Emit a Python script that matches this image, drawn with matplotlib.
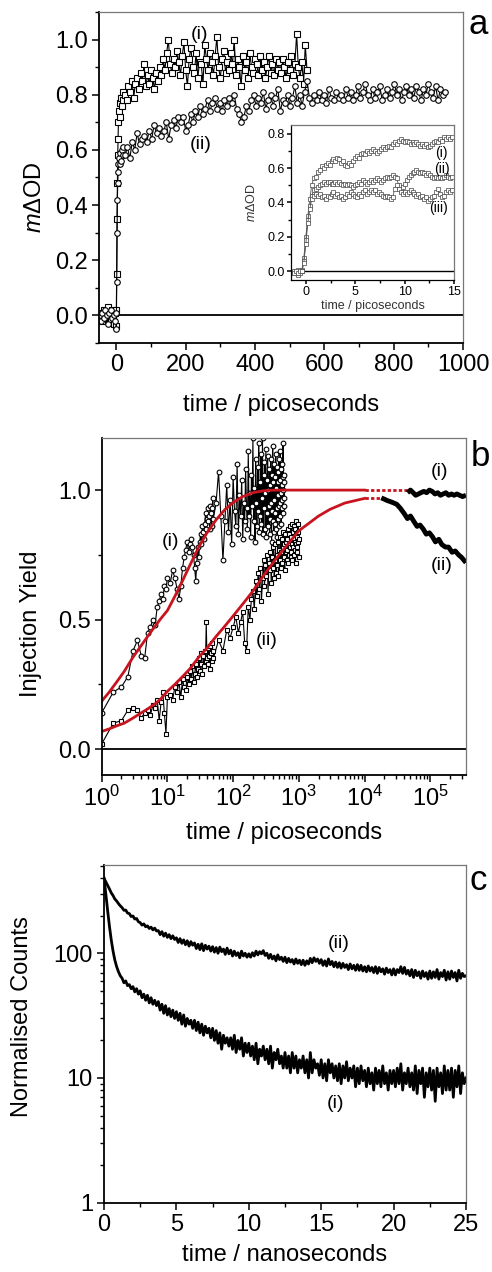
import numpy as np
import matplotlib
matplotlib.use("Agg")
import matplotlib.pyplot as plt
from matplotlib.ticker import MultipleLocator, FixedLocator, NullFormatter, LogLocator

plt.rcParams['font.family'] = ['Liberation Sans', 'DejaVu Sans']
plt.rcParams['mathtext.fontset'] = 'custom'
plt.rcParams['mathtext.rm'] = 'Liberation Sans'
plt.rcParams['mathtext.it'] = 'Liberation Sans:italic'

# ---------------- panel a: main traces ----------------
a_pre_t = [-48, -44, -40, -36, -32, -28, -24, -20, -16, -12, -8, -4, -2, 0,
           1, 2, 3, 4, 5, 6, 8, 10, 12, 14, 16, 18, 20]
a1_pre = [-0.01, 0.01, -0.02, 0.02, 0.00, -0.01, 0.03, 0.01, -0.02, 0.02, -0.03, 0.01, -0.04, 0.02,
          0.15, 0.35, 0.48, 0.58, 0.64, 0.70, 0.74, 0.72, 0.77, 0.79, 0.76, 0.81, 0.78]
a2_pre = [0.00, -0.02, 0.01, -0.01, 0.02, 0.00, -0.03, 0.01, 0.02, -0.01, 0.00, -0.02, 0.01, -0.05,
          0.12, 0.30, 0.42, 0.48, 0.52, 0.55, 0.57, 0.55, 0.59, 0.56, 0.60, 0.58, 0.61]

a1_t = np.arange(25, 551, 5)
a1_y = [0.80, 0.78, 0.83, 0.81, 0.85, 0.79, 0.84, 0.86, 0.82, 0.88,
        0.85, 0.91, 0.83, 0.87, 0.84, 0.89, 0.86, 0.82, 0.88, 0.85,
        0.90, 0.87, 0.93, 0.89, 0.95, 1.00, 0.91, 0.88, 0.93, 0.90,
        0.96, 0.92, 0.87, 0.94, 0.99, 0.89, 0.83, 0.93, 0.97, 0.90,
        0.88, 0.95, 0.86, 0.92, 0.91, 0.84, 0.98, 0.93, 0.89, 0.95,
        0.92, 0.87, 0.94, 1.01, 0.90, 0.86, 0.93, 0.96, 0.88, 0.92,
        0.89, 0.95, 0.91, 1.00, 0.87, 0.93, 0.90, 0.83, 0.94, 0.89,
        0.92, 0.86, 0.95, 0.90, 0.88, 0.93, 0.91, 0.87, 0.94, 0.89,
        0.92, 0.86, 0.90, 0.94, 0.88, 0.91, 0.87, 0.93, 0.89, 0.92,
        0.88, 0.93, 0.90, 0.86, 0.92, 0.89, 0.94, 0.87, 0.91, 1.02,
        0.90, 0.86, 0.92, 0.84, 0.98, 0.89]

a2_t = np.arange(25, 950, 7)
a2_y = [0.58, 0.61, 0.57, 0.63, 0.60, 0.66, 0.62, 0.64, 0.65, 0.63,
        0.67, 0.64, 0.69, 0.66, 0.68, 0.65, 0.67, 0.70, 0.64, 0.69,
        0.71, 0.68, 0.72, 0.70, 0.72, 0.67, 0.69, 0.73, 0.70, 0.74,
        0.72, 0.76, 0.73, 0.75, 0.78, 0.74, 0.77, 0.79, 0.75, 0.77,
        0.74, 0.78, 0.76, 0.79, 0.77, 0.80, 0.75, 0.73, 0.70, 0.72,
        0.76, 0.74, 0.78, 0.80, 0.76, 0.79, 0.77, 0.81, 0.75, 0.78,
        0.80, 0.76, 0.79, 0.82, 0.74, 0.78, 0.77, 0.80, 0.76, 0.79,
        0.83, 0.77, 0.80, 0.76, 0.81, 0.85, 0.79, 0.77, 0.80, 0.78,
        0.81, 0.78, 0.80, 0.77, 0.82, 0.79, 0.78, 0.81, 0.79, 0.80,
        0.78, 0.82, 0.79, 0.81, 0.78, 0.80, 0.83, 0.79, 0.81, 0.84,
        0.80, 0.78, 0.82, 0.79, 0.81, 0.83, 0.78, 0.80, 0.82, 0.79,
        0.81, 0.84, 0.80, 0.82, 0.78, 0.81, 0.83, 0.80, 0.82, 0.79,
        0.83, 0.81, 0.78, 0.82, 0.80, 0.84, 0.81, 0.79, 0.83, 0.78,
        0.82, 0.80, 0.81]

# ---------------- panel a: inset ----------------
ins_t = np.linspace(-1.2, 14.8, 81)
ins_1 = [-0.01, 0.00, -0.02, 0.00, 0.01, 0.08, 0.20, 0.32, 0.42, 0.50,
         0.54, 0.55, 0.58, 0.59, 0.61, 0.60, 0.62, 0.63, 0.62, 0.64,
         0.65, 0.64, 0.66, 0.65, 0.63, 0.64, 0.62, 0.61, 0.63, 0.62,
         0.64, 0.66, 0.67, 0.66, 0.68, 0.69, 0.68, 0.70, 0.69, 0.70,
         0.71, 0.70, 0.69, 0.70, 0.71, 0.72, 0.71, 0.72, 0.73, 0.72,
         0.74, 0.75, 0.74, 0.76, 0.77, 0.76, 0.75, 0.76, 0.75, 0.74,
         0.75, 0.74, 0.75, 0.74, 0.73, 0.74, 0.73, 0.74, 0.72, 0.73,
         0.74, 0.75, 0.76, 0.75, 0.77, 0.76, 0.78, 0.77, 0.78, 0.77, 0.78]
ins_2 = [0.00, -0.01, 0.01, -0.01, 0.00, 0.06, 0.18, 0.30, 0.38, 0.44,
         0.47, 0.48, 0.49, 0.50, 0.51, 0.52, 0.51, 0.52, 0.52, 0.51,
         0.51, 0.52, 0.51, 0.52, 0.51, 0.50, 0.51, 0.50, 0.51, 0.50,
         0.49, 0.50, 0.51, 0.52, 0.51, 0.53, 0.52, 0.51, 0.52, 0.53,
         0.52, 0.53, 0.54, 0.53, 0.52, 0.53, 0.54, 0.55, 0.54, 0.55,
         0.56, 0.55, 0.54, 0.50, 0.47, 0.49, 0.51, 0.53, 0.55, 0.56,
         0.57, 0.58, 0.59, 0.58, 0.57, 0.58, 0.57, 0.56, 0.57, 0.56,
         0.55, 0.54, 0.55, 0.54, 0.55, 0.54, 0.55, 0.56, 0.55, 0.54, 0.55]
ins_3 = [-0.01, 0.00, -0.01, 0.00, 0.00, 0.05, 0.16, 0.28, 0.36, 0.42,
         0.44, 0.45, 0.44, 0.45, 0.43, 0.44, 0.42, 0.44, 0.43, 0.45,
         0.46, 0.44, 0.45, 0.43, 0.44, 0.42, 0.43, 0.45, 0.44, 0.46,
         0.45, 0.44, 0.43, 0.45, 0.44, 0.46, 0.47, 0.45, 0.46, 0.47,
         0.46, 0.47, 0.45, 0.46, 0.45, 0.44, 0.43, 0.44, 0.43, 0.42,
         0.43, 0.48, 0.50, 0.48, 0.46, 0.45, 0.46, 0.45, 0.46, 0.47,
         0.46, 0.45, 0.44, 0.45, 0.43, 0.44, 0.42, 0.43, 0.41, 0.42,
         0.43, 0.44, 0.46, 0.48, 0.45, 0.43, 0.44, 0.46, 0.47, 0.46, 0.47]

# ---------------- panel b ----------------
b_t_early = np.arange(1, 10.01, 0.5)
b_t_mid = np.arange(11, 51, 1)
b1_t_late = np.arange(55, 601, 5)
b2_t_late = np.arange(60, 1001, 10)

b1_y = [0.14, 0.22, 0.24, 0.28, 0.38, 0.42, 0.36, 0.35, 0.45, 0.47,
        0.50, 0.48, 0.55, 0.57, 0.60, 0.58, 0.63, 0.62, 0.66,
        0.64, 0.69, 0.66, 0.62, 0.58, 0.63, 0.70, 0.74, 0.77, 0.80,
        0.76, 0.79, 0.81, 0.78, 0.75, 0.70, 0.65, 0.72, 0.78, 0.74,
        0.80, 0.83, 0.79, 0.86, 0.84, 0.81, 0.87, 0.91, 0.85, 0.89,
        0.93, 0.88, 0.90, 0.85, 0.94, 0.91, 0.86, 0.93, 0.97, 0.89,
        0.95, 1.07, 0.90, 0.73, 0.88, 1.02, 0.84, 0.96, 0.79, 1.05,
        0.92, 0.86, 1.10, 0.83, 0.98, 0.90, 1.04, 0.81, 0.95, 0.88,
        1.08, 0.93, 0.85, 1.15, 0.90, 0.99, 0.82, 1.06, 0.94, 1.20,
        0.88, 1.01, 0.80, 1.12, 0.95, 0.86, 1.09, 0.92, 1.18, 0.84,
        1.03, 0.90, 1.14, 0.87, 0.97, 1.20, 0.83, 1.06, 0.93, 1.11,
        0.85, 0.99, 1.16, 0.82, 1.04, 0.91, 1.13, 0.86, 1.00, 0.94,
        1.08, 0.83, 1.02, 0.89, 1.12, 0.95, 0.80, 1.06, 0.92, 1.17,
        0.88, 1.03, 0.84, 1.10, 0.96, 0.87, 1.05, 0.91, 1.14, 0.85,
        1.01, 0.93, 1.09, 0.82, 0.98, 1.07, 0.89, 1.03, 0.94, 1.12,
        0.86, 1.04, 0.95, 1.15, 0.90, 0.99, 1.08, 0.87, 1.02, 0.93,
        1.10, 0.96, 1.05, 0.91, 1.18, 1.00, 0.94, 1.06, 0.97, 1.03]

b2_y = [0.02, 0.10, 0.11, 0.15, 0.16, 0.15, 0.12, 0.14, 0.15, 0.13,
        0.17, 0.16, 0.19, 0.11, 0.18, 0.22, 0.14, 0.06, 0.20,
        0.21, 0.19, 0.24, 0.22, 0.26, 0.20, 0.27, 0.24, 0.23, 0.28,
        0.25, 0.30, 0.27, 0.32, 0.26, 0.29, 0.33, 0.28, 0.31, 0.35,
        0.30, 0.37, 0.33, 0.29, 0.36, 0.32, 0.38, 0.34, 0.49, 0.35,
        0.33, 0.39, 0.36, 0.31, 0.40, 0.37, 0.34, 0.41, 0.38, 0.35,
        0.42, 0.38, 0.46, 0.43, 0.47, 0.51, 0.45, 0.49, 0.53, 0.41,
        0.38, 0.55, 0.50, 0.58, 0.61, 0.54, 0.65, 0.59, 0.68, 0.62,
        0.70, 0.57, 0.66, 0.73, 0.63, 0.71, 0.67, 0.75, 0.60, 0.72,
        0.69, 0.76, 0.64, 0.74, 0.70, 0.78, 0.66, 0.73, 0.79, 0.68,
        0.75, 0.71, 0.80, 0.67, 0.77, 0.73, 0.82, 0.70, 0.76, 0.81,
        0.72, 0.78, 0.84, 0.74, 0.79, 0.69, 0.83, 0.76, 0.80, 0.73,
        0.81, 0.77, 0.85, 0.72, 0.79, 0.83, 0.75, 0.86, 0.78, 0.74,
        0.82, 0.76, 0.87, 0.79, 0.73, 0.84, 0.78, 0.81, 0.75, 0.86,
        0.80, 0.77, 0.85, 0.72, 0.83, 0.79, 0.88, 0.76, 0.82, 0.78,
        0.84, 0.80, 0.87, 0.74, 0.81]

fit_t = [1, 1.3, 1.7, 2.2, 3, 4, 5, 6.5, 8, 10, 13, 17, 22, 30, 40, 55, 75,
         100, 140, 200, 300, 450, 700, 1000, 2000, 3000, 5000, 10000]
fit_1 = [0.185, 0.22, 0.26, 0.30, 0.355, 0.40, 0.435, 0.475, 0.505, 0.535, 0.59, 0.65,
         0.71, 0.78, 0.835, 0.885, 0.925, 0.952, 0.975, 0.99, 0.998, 1.0, 1.0, 1.0,
         1.0, 1.0, 1.0, 1.0]
fit_2 = [0.068, 0.078, 0.09, 0.10, 0.12, 0.14, 0.155, 0.175, 0.195, 0.223, 0.25, 0.28,
         0.31, 0.355, 0.39, 0.435, 0.475, 0.514, 0.56, 0.61, 0.675, 0.735, 0.795, 0.843,
         0.90, 0.926, 0.95, 0.968]
dot_1_t, dot_1_y = [10000, 44000], [1.0, 1.0]
dot_2_t, dot_2_y = [10000, 18000], [0.968, 0.968]

late1_t = [45000, 50000, 55000, 60000, 66000, 72000, 80000, 88000, 97000, 107000, 118000,
           130000, 143000, 157000, 173000, 190000, 210000, 230000, 255000, 280000, 310000, 350000]
late1_y = [0.99, 1.0, 0.99, 0.98, 0.985, 0.99, 0.995, 0.99, 1.0, 0.995, 0.985,
           0.99, 0.98, 0.985, 0.99, 0.98, 0.985, 0.98, 0.985, 0.98, 0.975, 0.98]
late2_t = [18000, 20000, 22000, 25000, 28000, 31000, 35000, 40000, 45000, 50000, 56000,
           63000, 70000, 78000, 87000, 97000, 108000, 120000, 135000, 150000, 170000,
           190000, 215000, 240000, 270000, 300000, 350000]
late2_y = [0.97, 0.965, 0.96, 0.955, 0.95, 0.945, 0.93, 0.91, 0.89, 0.90, 0.88,
           0.86, 0.865, 0.85, 0.83, 0.835, 0.82, 0.80, 0.81, 0.79, 0.78,
           0.78, 0.76, 0.765, 0.75, 0.74, 0.72]

# ---------------- panel c ----------------
c_t = np.linspace(0, 25, 201)
c2_y = [400, 375, 350, 328, 305, 290, 272, 262, 250, 240,
        232, 221, 222, 210, 208, 197, 199, 188, 190, 179,
        176, 168, 172, 163, 166, 158, 162, 154, 159, 151,
        152, 141, 149, 137, 145, 134, 141, 131, 138, 129,
        133, 122, 131, 120, 128, 117, 126, 114, 124, 116,
        121, 109, 118, 107, 119, 105, 116, 108, 114, 104,
        113, 102, 111, 100, 112, 103, 108, 98, 110, 99,
        106, 95, 104, 96, 101, 92, 104, 95, 100, 93,
        99, 93, 101, 95, 104, 97, 103, 99, 105, 96,
        100, 91, 98, 90, 95, 87, 97, 89, 93, 86,
        93, 84, 91, 85, 89, 82, 90, 83, 88, 81,
        88, 80, 87, 82, 91, 84, 92, 86, 90, 83,
        89, 80, 87, 79, 90, 81, 86, 78, 85, 77,
        84, 76, 83, 77, 81, 74, 82, 75, 80, 73,
        81, 73, 80, 72, 78, 71, 79, 72, 77, 70,
        78, 69, 77, 71, 75, 68, 76, 70, 74, 67,
        75, 67, 74, 70, 78, 69, 77, 68, 73, 66,
        74, 64, 73, 66, 71, 63, 72, 65, 70, 62,
        72, 63, 71, 64, 74, 62, 70, 65, 73, 61,
        71, 62, 72, 64, 70, 60, 73, 63, 69, 65,
        66]
c1_y = [400, 300, 220, 165, 128, 104, 88, 78, 71, 66,
        63, 58, 60, 55, 56, 52, 54, 49, 52, 47,
        50, 44, 47, 42, 46, 40, 44, 39, 42, 38,
        41, 35, 39, 33, 38, 32, 36, 31, 35, 30,
        34, 29, 33, 27, 32, 26, 30, 27, 29, 25,
        29, 24, 28, 23, 27, 22, 26, 23, 25, 21,
        25, 20, 24, 19, 23, 17, 22, 19, 21, 18,
        21, 17, 22, 16, 20, 17, 21, 15, 19, 16,
        19, 15, 18, 14, 19, 13, 17, 15, 18, 14,
        17, 13, 18, 12, 16, 14, 17, 13, 15, 12,
        16, 12, 15, 11, 16, 12, 15, 11, 14, 12,
        15, 11, 14, 10, 16, 11, 14, 12, 13, 10.5,
        14, 10, 13, 9.5, 14, 11, 13, 10, 12.5, 9.5,
        13, 9, 12.5, 10, 13.5, 9.5, 12, 10, 12.5, 8.5,
        12, 9, 12.5, 9.5, 11.5, 8.5, 12, 9, 11, 8,
        12, 9, 11.5, 8.5, 12.5, 9, 11, 8, 11.5, 9,
        11.5, 8.5, 12, 9, 13, 8, 11, 9, 12, 8.5,
        11, 8, 12.5, 7.5, 11.5, 9, 12, 7, 11, 8.5,
        12, 8, 11.5, 6.5, 12, 8.5, 11, 7.5, 12.5, 8,
        11.5, 8, 12, 7, 11.5, 8.5, 12.5, 7.5, 11, 9,
        10]

W, H = 492, 1272
fig = plt.figure(figsize=(W / 100, H / 100), dpi=100)


def px_axes(left, top, right, bottom):
    return fig.add_axes([left / W, 1 - bottom / H, (right - left) / W, (bottom - top) / H])


def style(ax, size=17, major=5, minor=3):
    for s in ['left', 'bottom']:
        ax.spines[s].set_linewidth(1.3)
        ax.spines[s].set_color('black')
    for s in ['top', 'right']:
        ax.spines[s].set_linewidth(0.9)
        ax.spines[s].set_color('#777777')
    ax.tick_params(which='both', direction='out', top=False, right=False, labelsize=size, pad=3)
    ax.tick_params(which='major', length=major, width=1.1)
    ax.tick_params(which='minor', length=minor, width=1.0)


mk = dict(mfc='white', mec='black', mew=0.8, color='black', lw=0.8)

# ---- a ----
ax = px_axes(99, 12, 463, 343)
ax.axhline(0, color='black', lw=1.3)
ax.plot(list(a_pre_t) + list(a1_t), a1_pre + a1_y, marker='s', ms=4.0, **mk)
ax.plot(list(a_pre_t) + list(a2_t), a2_pre + a2_y, marker='o', ms=4.0, **mk)
ax.set_xlim(-50, 1000)
ax.set_ylim(-0.1, 1.1)
ax.set_yticks([0, 0.2, 0.4, 0.6, 0.8, 1.0])
ax.yaxis.set_minor_locator(MultipleLocator(0.1))
ax.set_xticks([0, 200, 400, 600, 800, 1000])
ax.xaxis.set_minor_locator(MultipleLocator(100))
style(ax)
ax.set_xlabel('time / picoseconds', fontsize=17)
ax.xaxis.set_label_coords(0.5, -0.187)
ax.xaxis.label.set_va('center')
ax.set_ylabel(r'$m$ΔOD', fontsize=17)
ax.yaxis.set_label_coords(-0.176, 0.44)
ax.yaxis.label.set_va('center')
ax.text(241, 1.02, '(i)', fontsize=14, ha='center', va='center')
ax.text(244, 0.62, '(ii)', fontsize=14, ha='center', va='center')

# ---- inset ----
axi = px_axes(291, 125, 454, 280)
axi.axhline(0, color='black', lw=1.0)
imk = dict(mfc='white', mec='#444444', mew=0.5, color='#555555', lw=0.6, ms=2.2, marker='s')
axi.plot(ins_t, ins_1, **imk)
axi.plot(ins_t, ins_2, **imk)
axi.plot(ins_t, ins_3, **imk)
axi.set_xlim(-1.5, 15)
axi.set_ylim(-0.05, 0.85)
axi.set_xticks([0, 5, 10, 15])
axi.xaxis.set_minor_locator(MultipleLocator(2.5))
axi.set_yticks([0, 0.2, 0.4, 0.6, 0.8])
axi.yaxis.set_minor_locator(MultipleLocator(0.1))
style(axi, size=9, major=3, minor=2)
for s in ['left', 'bottom']:
    axi.spines[s].set_linewidth(0.9)
axi.tick_params(pad=1.5)
axi.set_xlabel('time / picoseconds', fontsize=9, color='#333333')
axi.xaxis.set_label_coords(0.5, -0.168)
axi.xaxis.label.set_va('center')
axi.set_ylabel(r'$m$ΔOD', fontsize=9, color='#333333')
axi.yaxis.set_label_coords(-0.241, 0.5)
axi.yaxis.label.set_va('center')
axi.text(13.75, 0.69, '(i)', fontsize=10, ha='center', va='center')
axi.text(13.75, 0.595, '(ii)', fontsize=10, ha='center', va='center')
axi.text(13.4, 0.37, '(iii)', fontsize=10, ha='center', va='center')

# ---- b ----
bx = px_axes(101.7, 438.3, 466, 775)
bx.axhline(0, color='black', lw=1.3)
b1_t = list(b_t_early) + list(b_t_mid) + list(b1_t_late)
b2_t = list(b_t_early) + list(b_t_mid) + list(b2_t_late)
bx.plot(b1_t, b1_y, marker='o', ms=3.4, **mk)
bx.plot(b2_t, b2_y, marker='s', ms=3.4, **mk)
red = '#c8141e'
bx.plot(fit_t, fit_1, color=red, lw=2.0)
bx.plot(fit_t, fit_2, color=red, lw=2.0)
bx.plot(dot_1_t, dot_1_y, color=red, lw=2.0, ls=(0, (1.2, 0.8)))
bx.plot(dot_2_t, dot_2_y, color=red, lw=2.0, ls=(0, (1.2, 0.8)))
bx.plot(late1_t, late1_y, color='black', lw=3.5, solid_capstyle='butt')
bx.plot(late2_t, late2_y, color='black', lw=3.5, solid_capstyle='butt')
bx.set_xscale('log')
bx.set_xlim(1, 3.5e5)
bx.set_ylim(-0.1, 1.2)
bx.set_yticks([0, 0.5, 1.0])
bx.yaxis.set_minor_locator(MultipleLocator(0.25))
bx.xaxis.set_major_locator(FixedLocator([1, 10, 100, 1e3, 1e4, 1e5]))
bx.xaxis.set_minor_locator(LogLocator(base=10, subs=np.arange(2, 10), numticks=20))
bx.xaxis.set_minor_formatter(NullFormatter())
bx.set_xticklabels([r'$10^0$', r'$10^1$', r'$10^2$', r'$10^3$', r'$10^4$', r'$10^5$'])
style(bx)
bx.set_xlabel('time / picoseconds', fontsize=17)
bx.xaxis.set_label_coords(0.5, -0.172)
bx.xaxis.label.set_va('center')
bx.set_ylabel('Injection Yield', fontsize=17)
bx.yaxis.set_label_coords(-0.194, 0.448)
bx.yaxis.label.set_va('center')
bx.text(11, 0.80, '(i)', fontsize=14, ha='center', va='center')
bx.text(325, 0.42, '(ii)', fontsize=14, ha='center', va='center')
bx.text(1.4e5, 1.07, '(i)', fontsize=14, ha='center', va='center')
bx.text(1.5e5, 0.71, '(ii)', fontsize=14, ha='center', va='center')

# ---- c ----
cx = px_axes(104, 865, 466, 1202.7)
cx.plot(c_t, c2_y, color='black', lw=2.0)
cx.plot(c_t, c1_y, color='black', lw=2.0)
cx.set_yscale('log')
cx.set_xlim(0, 25)
cx.set_ylim(1, 510)
cx.yaxis.set_major_locator(FixedLocator([1, 10, 100]))
cx.set_yticklabels(['1', '10', '100'])
cx.yaxis.set_minor_locator(LogLocator(base=10, subs=np.arange(2, 10), numticks=20))
cx.yaxis.set_minor_formatter(NullFormatter())
cx.set_xticks([0, 5, 10, 15, 20, 25])
cx.xaxis.set_minor_locator(MultipleLocator(2.5))
style(cx)
cx.set_xlabel('time / nanoseconds', fontsize=17)
cx.xaxis.set_label_coords(0.5, -0.155)
cx.xaxis.label.set_va('center')
cx.set_ylabel('Normalised Counts', fontsize=17)
cx.yaxis.set_label_coords(-0.227, 0.551)
cx.yaxis.label.set_va('center')
cx.text(16.2, 120, '(ii)', fontsize=14, ha='center', va='center')
cx.text(16.0, 6.2, '(i)', fontsize=14, ha='center', va='center')

fig.text(478 / W, 1 - 25 / H, 'a', fontsize=25, ha='center', va='center')
fig.text(480 / W, 1 - 457 / H, 'b', fontsize=25, ha='center', va='center')
fig.text(478 / W, 1 - 880 / H, 'c', fontsize=25, ha='center', va='center')

fig.savefig('out.png', dpi=100)
